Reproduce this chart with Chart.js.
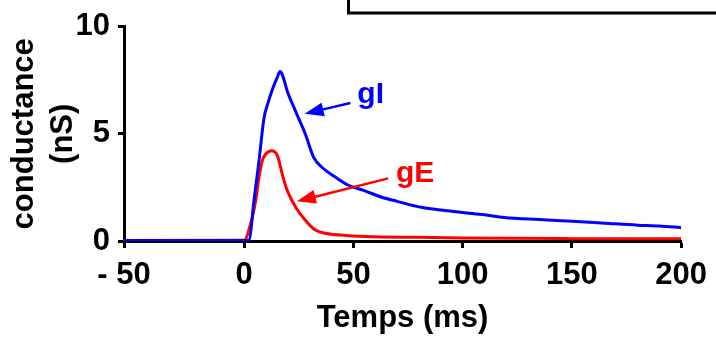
<!DOCTYPE html>
<html lang="en">
<head>
  <meta charset="UTF-8">
  <title>Conductances gE / gI</title>
  <script src="https://cdn.jsdelivr.net/npm/chart.js"></script>
  <style>
    body {
      margin: 0;
      padding: 0;
      background: #ffffff;
    }
    canvas {
      display: block;
    }
  </style>
</head>
<body>
  <canvas id="condChart" width="716" height="340"></canvas>

  <script>
    // Data (time in ms, conductance in nS)
    const gITime = [-55, 0, 2.3, 4.5, 6.8, 9.1, 11.1, 12.9, 15, 16.4, 17.5, 19.7, 23.5, 28, 31.8, 35.6, 41.7, 47.7, 55, 63, 70, 81, 90, 100, 110, 119, 135, 150, 165, 180, 190, 200];
    const gIValues = [0.02, 0.02, 0.05, 1.9, 3.75, 5.75, 6.5, 7.07, 7.6, 7.9, 7.75, 7.0, 6.06, 4.99, 3.9, 3.44, 2.98, 2.6, 2.35, 2.04, 1.85, 1.57, 1.45, 1.33, 1.22, 1.1, 1.0, 0.92, 0.83, 0.74, 0.7, 0.62];

    const gETime = [-55, 0, 3, 5.3, 6.8, 8.3, 9.9, 12.6, 15.2, 17.4, 19.7, 23.5, 28, 32.6, 37.1, 47.7, 60, 80, 100, 150, 200];
    const gEValues = [0.02, 0.04, 0.82, 1.9, 2.98, 3.75, 4.06, 4.21, 3.98, 3.13, 2.36, 1.59, 0.97, 0.51, 0.36, 0.25, 0.2, 0.17, 0.14, 0.11, 0.1];

    // the axis starts a little before -50, the first tick sits on the axis corner
    const xTicks = [-55, 0, 50, 100, 150, 200];
    const xTickLabels = ['- 50', '0', '50', '100', '150', '200'];
    const yTicks = [0, 5, 10];

    const FONT = 'Arial, "Liberation Sans", sans-serif';

    function toPoints(xs, ys) {
      return xs.map((x, i) => ({ x: x, y: ys[i] }));
    }

    // arrows + labels, positions in data units
    const notes = [
      { text: 'gI', color: '#0000ff', from: [48.6, 6.44], to: [27.7, 5.93], at: [51.8, 6.44] },
      { text: 'gE', color: '#ff0000', from: [65.9, 2.92], to: [24.1, 1.85], at: [69.5, 2.73] }
    ];

    const notesPlugin = {
      id: 'notes',
      afterDatasetsDraw(chart) {
        const ctx = chart.ctx;
        const xs = chart.scales.x;
        const ys = chart.scales.y;
        ctx.save();

        // bit of the frame above, cut off by the crop
        ctx.strokeStyle = '#000';
        ctx.lineWidth = 3;
        ctx.strokeRect(348.5, -20, 500, 33);

        notes.forEach(n => {
          const x1 = xs.getPixelForValue(n.from[0]);
          const y1 = ys.getPixelForValue(n.from[1]);
          const x2 = xs.getPixelForValue(n.to[0]);
          const y2 = ys.getPixelForValue(n.to[1]);
          const ang = Math.atan2(y2 - y1, x2 - x1);
          const headLen = 19;
          const headW = 7;

          ctx.strokeStyle = n.color;
          ctx.fillStyle = n.color;
          ctx.lineWidth = 2.5;
          ctx.beginPath();
          ctx.moveTo(x1, y1);
          ctx.lineTo(x2 - Math.cos(ang) * (headLen - 2), y2 - Math.sin(ang) * (headLen - 2));
          ctx.stroke();

          const bx = x2 - Math.cos(ang) * headLen;
          const by = y2 - Math.sin(ang) * headLen;
          ctx.beginPath();
          ctx.moveTo(x2, y2);
          ctx.lineTo(bx + Math.sin(ang) * headW, by - Math.cos(ang) * headW);
          ctx.lineTo(bx - Math.sin(ang) * headW, by + Math.cos(ang) * headW);
          ctx.closePath();
          ctx.fill();

          ctx.font = 'bold 30px ' + FONT;
          ctx.textAlign = 'left';
          ctx.textBaseline = 'alphabetic';
          ctx.fillText(n.text, xs.getPixelForValue(n.at[0]), ys.getPixelForValue(n.at[1]));
        });
        ctx.restore();
      }
    };

    const ctx = document.getElementById('condChart').getContext('2d');
    new Chart(ctx, {
      type: 'line',
      data: {
        datasets: [
          {
            label: 'gI',
            data: toPoints(gITime, gIValues),
            borderColor: '#0000ff',
            borderWidth: 3,
            pointRadius: 0,
            cubicInterpolationMode: 'monotone',
            fill: false
          },
          {
            label: 'gE',
            data: toPoints(gETime, gEValues),
            borderColor: '#ff0000',
            borderWidth: 3,
            pointRadius: 0,
            cubicInterpolationMode: 'monotone',
            fill: false
          }
        ]
      },
      options: {
        responsive: false,
        animation: false,
        devicePixelRatio: 1,
        layout: {
          padding: { left: 0, top: 25, right: 32, bottom: 0 }
        },
        plugins: {
          legend: { display: false },
          tooltip: { enabled: false }
        },
        scales: {
          x: {
            type: 'linear',
            min: -55,
            max: 200,
            afterBuildTicks: axis => {
              axis.ticks = xTicks.map(v => ({ value: v }));
            },
            afterFit: axis => {
              axis.height = 99;
            },
            ticks: {
              color: '#000',
              padding: 9,
              maxRotation: 0,
              autoSkip: false,
              font: { family: FONT, size: 31, weight: 'bold' },
              callback: (value, index) => xTickLabels[index]
            },
            grid: {
              drawOnChartArea: false,
              drawTicks: true,
              tickLength: 7,
              tickWidth: 3,
              tickColor: '#000'
            },
            border: { color: '#000', width: 3 },
            title: {
              display: true,
              text: 'Temps (ms)',
              color: '#000',
              font: { family: FONT, size: 31, weight: 'bold', lineHeight: 1.2 },
              padding: { top: 0, bottom: 3 }
            }
          },
          y: {
            min: 0,
            max: 10,
            afterBuildTicks: axis => {
              axis.ticks = yTicks.map(v => ({ value: v }));
            },
            afterFit: axis => {
              axis.width = 124;
            },
            ticks: {
              color: '#000',
              padding: 8,
              font: { family: FONT, size: 31, weight: 'bold' }
            },
            grid: {
              drawOnChartArea: false,
              drawTicks: true,
              tickLength: 6,
              tickWidth: 3,
              tickColor: '#000'
            },
            border: { color: '#000', width: 3 },
            title: {
              display: true,
              text: ['conductance', '(nS)'],
              color: '#000',
              font: { family: FONT, size: 31, weight: 'bold', lineHeight: 1.25 },
              padding: { top: 5, bottom: 0 }
            }
          }
        }
      },
      plugins: [notesPlugin]
    });
  </script>
</body>
</html>
